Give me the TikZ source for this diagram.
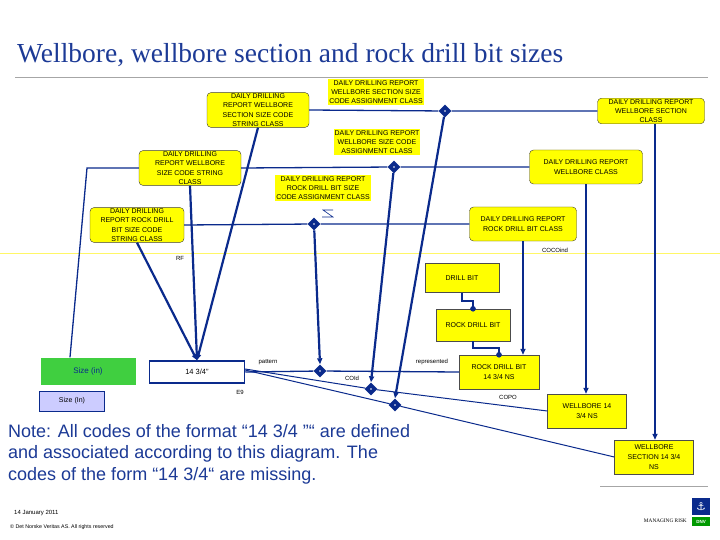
\documentclass[tikz,border=0pt]{standalone}
\usepackage{fontspec}
\setmainfont{Liberation Sans}
\newfontfamily\titlefont{Liberation Serif}
\newfontfamily\symfont{DejaVu Sans}
\usetikzlibrary{shapes.geometric,arrows.meta}
\definecolor{ylw}{HTML}{FFFF00}
\definecolor{dblue}{HTML}{0A2A8C}
\definecolor{lblue}{HTML}{1C3A96}
\tikzset{
 x=1pt,y=-1pt,
 rbox/.style={draw=black!70!olive,fill=ylw,rounded corners=4pt,align=center,font=\fontsize{7}{9.3}\selectfont,inner sep=1pt,minimum width=#1},
 rbox/.default=100pt,
 lbl/.style={fill=ylw,align=center,font=\fontsize{7}{9.3}\selectfont,inner sep=1pt},
 sbox/.style={draw=black!70,fill=ylw,align=center,font=\fontsize{7}{10}\selectfont,minimum width=#1},
 sbox/.default=78pt,
 dia/.style={diamond,fill=dblue,minimum size=13pt,inner sep=0pt,path picture={\fill[white] (path picture bounding box.center) circle (0.8pt);}},
 link/.style={draw=dblue,line width=2.2pt},
 thin/.style={draw=dblue,line width=1.3pt},
 arr/.style={-{Triangle[length=6pt,width=5pt]}},
 small/.style={font=\fontsize{6}{7}\selectfont},
}
\begin{document}
\begin{tikzpicture}
\useasboundingbox (0,0) rectangle (720,540);
\fill[white] (0,0) rectangle (720,540);
\node[anchor=west,font=\titlefont\fontsize{27.5}{30}\selectfont,text=lblue,inner sep=0pt] (title) at (17,55) {Wellbore, wellbore section and rock drill bit sizes};
\draw[gray!70,line width=0.8pt] (15,77) -- (708,77);
\draw[yellow!60,line width=0.8pt] (0,253) -- (720,253);
\draw[gray!70,line width=0.8pt] (600,486) -- (708,486);

% top class boxes
\node[rbox=102pt] (A) at (258,110) {DAILY DRILLING\\REPORT WELLBORE\\SECTION SIZE CODE\\STRING CLASS};
\node[rbox=102pt] (B) at (190,168) {DAILY DRILLING\\REPORT WELLBORE\\SIZE CODE STRING\\CLASS};
\node[rbox=94pt] (C) at (137,225) {DAILY DRILLING\\REPORT ROCK DRILL\\BIT SIZE CODE\\STRING CLASS};
\node[rbox=107pt] (D) at (651,111) {DAILY DRILLING REPORT\\WELLBORE SECTION\\CLASS};
\node[rbox=113pt,minimum height=34pt] (E) at (586,167) {DAILY DRILLING REPORT\\WELLBORE CLASS};
\node[rbox=107pt,minimum height=34pt] (F) at (523,224) {DAILY DRILLING REPORT\\ROCK DRILL BIT CLASS};
\node[lbl] (L1) at (376,92) {DAILY DRILLING REPORT\\WELLBORE SECTION SIZE\\CODE ASSIGNMENT CLASS};
\node[lbl] (L2) at (377,142) {DAILY DRILLING REPORT\\WELLBORE SIZE CODE\\ASSIGNMENT CLASS};
\node[lbl] (L3) at (323,188) {DAILY DRILLING REPORT\\ROCK DRILL BIT SIZE\\CODE ASSIGNMENT CLASS};

% lower boxes
\node[draw=dblue,line width=1.5pt,fill=white,minimum width=95pt,minimum height=22pt,font=\fontsize{7.5}{8}\selectfont] (S) at (197,372) {14 3/4"};
\node[fill=green!75!black!75,minimum width=95pt,minimum height=27pt,font=\fontsize{8}{8}\selectfont,text=dblue] (G) at (88,371) {Size (in)};
\node[draw=dblue,fill=blue!20,minimum width=65pt,minimum height=20pt,font=\fontsize{7}{8}\selectfont] (V) at (72,401) {Size (In)};
\node[sbox=74pt,minimum height=29pt] (DB) at (462,278) {DRILL BIT};
\node[sbox=74pt,minimum height=32pt] (RDB) at (473,325) {ROCK DRILL BIT};
\node[sbox=80pt,minimum height=34pt] (RN) at (499,372) {ROCK DRILL BIT\\14 3/4 NS};
\node[sbox=79pt,minimum height=34pt] (WN) at (587,411) {WELLBORE 14\\3/4 NS};
\node[sbox=79pt,minimum height=34pt] (WSN) at (654,457) {WELLBORE\\SECTION 14 3/4\\NS};

% diamonds
\node[dia] (d1) at (445,111) {};
\node[dia] (d2) at (394,167) {};
\node[dia] (d3) at (314,224) {};
\node[dia] (d4) at (320,371) {};
\node[dia] (d5) at (371,389) {};
\node[dia] (d6) at (395,405) {};

% horizontal lines
\draw[thin] (A.east) -- (d1) -- (D.west);
\draw[thin] (B.east) -- (d2) -- (E.west);
\draw[thin] (C.east) -- (d3) -- (F.west);
\draw[thin,line width=0.6pt] (322,217) -- (333,217) -- (323,210) -- (333,210);
% thin to green
\coordinate (bk) at (87,168);
\draw[thin] (B.west |- bk) -- (bk) -- (G.north -| 70,0);

% converging arrows
\draw[link,arr] (A.south) -- (S.north);
\draw[link,arr] (B.south) -- (S.north);
\draw[link,arr] (C.south) -- (S.north);
\draw[link,arr] (d3) -- (d4.north);
\draw[link,arr] (d2) -- (d5.north);
\draw[link,arr] (d1) -- (d6.north);
\draw[link,arr] (F.south) -- (RN.north -| F.south);
\draw[link,arr] (E.south) -- (WN.north -| E.south);
\draw[link,arr] (D.south -| 655,0) -- (WSN.north -| 655,0);

% drill bit links
\draw[link] (462,292.5) -- (462,301) -- (473,301) -- (RDB.north);
\fill[dblue] (RDB.north) circle (2.8pt);
\draw[link] (473,341) -- (473,348) -- (499,348) -- (RN.north);
\fill[dblue] (RN.north) circle (2.8pt);

% lower relation lines
\draw[thin] (S.east) -- (d4) -- (RN.west);
\draw[thin,line width=1pt] (245,369) -- (d5) -- (WN.west);
\draw[thin,line width=1pt] (245,370) -- (d6) -- (WSN.west);

% small labels
\node[small] (rf) at (180,258) {RF};
\node[small] (coc) at (555,250) {COCOind};
\node[small] (pat) at (268,362) {pattern};
\node[small] (coid) at (352,378) {COId};
\node[small] (e9) at (240,392) {E9};
\node[small] (rep) at (432,362) {represented};
\node[small] (copo) at (508,397) {COPO};

% note
\node[anchor=north west,align=left,text=lblue,font=\fontsize{18}{21.5}\selectfont,inner sep=0pt] (note) at (8,424) {Note: All codes of the format “14 3/4 "“ are defined\\and associated according to this diagram. The\\codes of the form “14 3/4“ are missing.};

% footer
\node[anchor=west,font=\fontsize{6}{7}\selectfont,inner sep=0pt] (date) at (14,513) {14 January 2011};
\node[anchor=west,font=\fontsize{5.3}{6}\selectfont,inner sep=0pt] (copy) at (10,527) {© Det Norske Veritas AS. All rights reserved};
\node[anchor=east,font=\titlefont\fontsize{5.3}{6}\selectfont,inner sep=0pt] (mr) at (687,521) {MANAGING RISK};
\fill[dblue] (692,498) rectangle (710,515);
\node[text=white,font=\symfont\fontsize{11}{11}\selectfont,inner sep=0pt] (anch) at (701,506.5) {⚓};
\fill[green!60!black] (692,517) rectangle (710,526);
\node[text=white,font=\fontsize{4.5}{5}\selectfont\bfseries,inner sep=0pt] (dnv) at (701,521.5) {DNV};
\end{tikzpicture}
\end{document}
